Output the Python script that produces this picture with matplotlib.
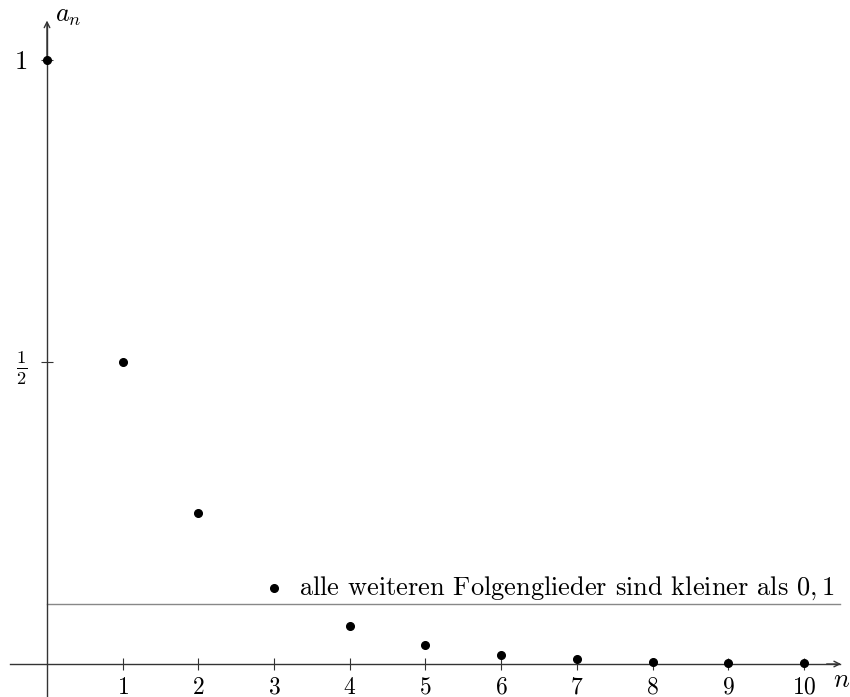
import numpy as np
import matplotlib
matplotlib.use('Agg')
import matplotlib.pyplot as plt

# Folge a_n = 1/2^n
n_values = [0, 1, 2, 3, 4, 5, 6, 7, 8, 9, 10]
a_values = [1, 0.5, 0.25, 0.125, 0.0625, 0.03125, 0.015625,
            0.0078125, 0.00390625, 0.001953125, 0.0009765625]
schranke = 0.1
x_ticks = [1, 2, 3, 4, 5, 6, 7, 8, 9, 10]
y_ticks = [0.5, 1]
y_ticklabels = [r'$\frac{1}{2}$', r'$1$']
hinweis = r'alle weiteren Folgenglieder sind kleiner als $0,1$'

plt.rcParams['mathtext.fontset'] = 'cm'
plt.rcParams['font.family'] = ['cmr10', 'DejaVu Serif']
plt.rcParams['axes.formatter.use_mathtext'] = True

fig = plt.figure(figsize=(8.5, 6.97), dpi=100)
ax = fig.add_axes([0, 0, 1, 1])
ax.set_xlim(-0.621, 10.608)
ax.set_ylim(-0.0546, 1.099)

axis_col = '#333333'
for side in ['top', 'right']:
    ax.spines[side].set_visible(False)
ax.spines['left'].set_position(('data', 0))
ax.spines['bottom'].set_position(('data', 0))
ax.spines['left'].set_bounds(-0.06, 1.06)
ax.spines['bottom'].set_bounds(-0.49, 10.47)
for side in ['left', 'bottom']:
    ax.spines[side].set_color(axis_col)
    ax.spines[side].set_linewidth(1.0)

# Pfeilspitzen
ax.annotate('', xy=(10.49, 0), xytext=(10.3, 0),
            arrowprops=dict(arrowstyle='->', color=axis_col, lw=1.0,
                            shrinkA=0, shrinkB=0))
ax.annotate('', xy=(0, 1.065), xytext=(0, 1.0),
            arrowprops=dict(arrowstyle='->', color=axis_col, lw=1.0,
                            shrinkA=0, shrinkB=0))

ax.set_xticks(x_ticks)
ax.set_xticklabels([rf'${v}$' for v in x_ticks], fontsize=17)
ax.set_yticks(y_ticks)
ax.set_yticklabels(y_ticklabels, fontsize=19)
ax.tick_params(axis='x', direction='inout', length=8, width=0.8,
               color=axis_col, pad=5)
ax.tick_params(axis='y', direction='inout', length=8, width=0.8,
               color=axis_col, pad=10)

ax.text(0.1, 1.073, r'$a_n$', fontsize=19, ha='left', va='center')
ax.text(10.39, -0.027, r'$n$', fontsize=19, ha='left', va='center')

# Schranke 0,1
ax.plot([0, 10.48], [schranke, schranke], color='#888888', lw=1.0, zorder=1)

ax.plot(n_values, a_values, 'o', color='black', markersize=5.5,
        clip_on=False, zorder=5)

ax.text(n_values[3] + 0.33, a_values[3], hinweis, fontsize=19,
        ha='left', va='center')

fig.savefig('out.png', dpi=100)
